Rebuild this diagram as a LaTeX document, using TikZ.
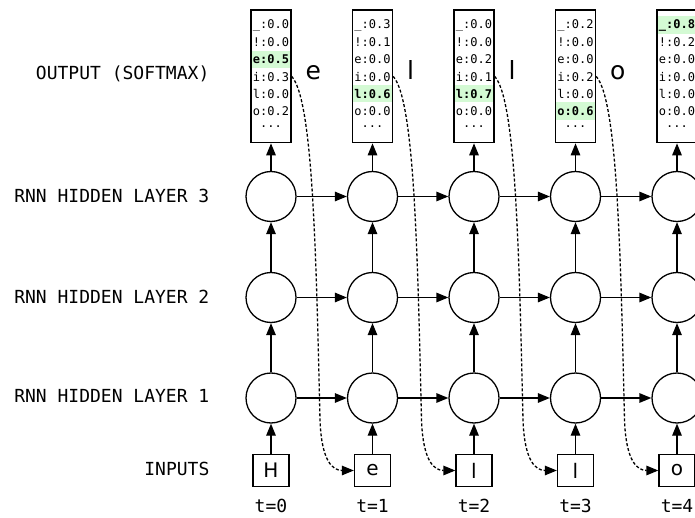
\documentclass[tikz,border=0pt]{standalone}
\usepackage{fontspec}
\setmainfont{DejaVu Sans}
\setmonofont{DejaVu Sans Mono}
\usetikzlibrary{arrows.meta}
\definecolor{hl}{RGB}{212,250,212}
\begin{document}
\begin{tikzpicture}[x=1pt,y=-1pt,line width=1.3pt,
  hid/.style={circle,draw,minimum size=50pt,inner sep=0pt},
  inbox/.style={draw,minimum width=36pt,minimum height=32pt,inner sep=0pt,font=\fontsize{20}{20}\selectfont},
  outbox/.style={draw,minimum width=40pt,minimum height=132.7pt,inner sep=0pt},
  prob/.style={inner sep=0pt,font=\ttfamily\fontsize{12}{12}\selectfont},
  lbl/.style={anchor=base east,inner sep=0pt,font=\ttfamily\fontsize{18}{18}\selectfont},
  tlbl/.style={anchor=base,inner sep=0pt,font=\ttfamily\fontsize{18}{18}\selectfont},
  olbl/.style={anchor=base west,inner sep=0pt,font=\fontsize{25}{25}\selectfont},
  arr/.style={-{Triangle[length=12pt,width=9.5pt]}},
  darr/.style={arr,dash pattern=on 3pt off 2pt},
]
\useasboundingbox (0,0) rectangle (695,518);
\node[lbl] (lo) at (210,80) {OUTPUT (SOFTMAX)};
\node[lbl] (l3) at (210,203) {RNN HIDDEN LAYER 3};
\node[lbl] (l2) at (210,303.5) {RNN HIDDEN LAYER 2};
\node[lbl] (l1) at (210,402.7) {RNN HIDDEN LAYER 1};
\node[lbl] (li) at (210,475.3) {INPUTS};
\foreach \i/\inl/\ra/\rb/\rc/\rd/\re/\rf/\hk in {
 0/H/0.0/0.0/0.5/0.3/0.0/0.2/2,
 1/e/0.3/0.1/0.0/0.0/0.6/0.0/4,
 2/l/0.0/0.0/0.2/0.1/0.7/0.0/4,
 3/l/0.2/0.0/0.0/0.2/0.0/0.6/5,
 4/o/0.8/0.2/0.0/0.0/0.0/0.0/0}
{
  \pgfmathsetmacro\xx{271+101.5*\i}
  \pgfmathsetmacro\yy{25+17.2*\hk}
  \fill[hl] (\xx-19.4,\yy-8.6) rectangle (\xx+19.4,\yy+8.6);
  \node[outbox] (out\i) at (\xx,76.35) {};
  \foreach \ch/\v [count=\k from 0] in {\_/\ra,!/\rb,e/\rc,i/\rd,l/\re,o/\rf} {
    \node[prob] (p\i\k) at (\xx,25+17.2*\k) {\ifnum\k=\hk\bfseries\fi\ch:\v};
  }
  \node[prob] (p\i6) at (\xx,127) {...};
  \node[hid] (hc\i) at (\xx,196.5) {};
  \node[hid] (hb\i) at (\xx,297.5) {};
  \node[hid] (ha\i) at (\xx,398) {};
  \node[inbox] (in\i) at (\xx,470.5) {\inl};
  \node[tlbl] (t\i) at (\xx,512) {t=\i};
  \draw[arr] (in\i) -- (ha\i);
  \draw[arr] (ha\i) -- (hb\i);
  \draw[arr] (hb\i) -- (hc\i);
  \draw[arr] (hc\i) -- (out\i);
}
\foreach \i/\ol in {0/e,1/l,2/l,3/o} {
  \pgfmathtruncatemacro\j{\i+1}
  \pgfmathsetmacro\xx{271+101.5*\i}
  \node[olbl] (ol\i) at (\xx+34,80) {\ol};
  \draw[arr] (ha\i) -- (ha\j);
  \draw[arr] (hb\i) -- (hb\j);
  \draw[arr] (hc\i) -- (hc\j);
  \draw[darr] (out\i.east) .. controls (\xx+42,100) and (\xx+45,250) .. (\xx+49,420)
     .. controls (\xx+50.5,462) and (\xx+62,470.5) .. (in\j.west);
}
\end{tikzpicture}
\end{document}
